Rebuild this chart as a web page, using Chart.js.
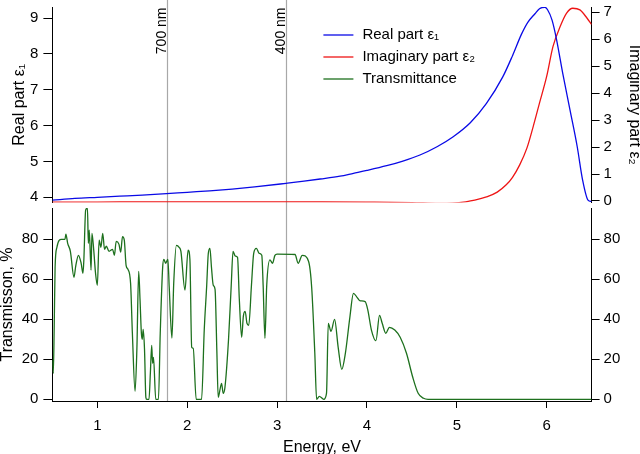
<!DOCTYPE html>
<html>
<head>
<meta charset="utf-8">
<script src="https://cdn.jsdelivr.net/npm/chart.js@4.4.1/dist/chart.umd.min.js"></script>
<style>
  html, body { margin: 0; padding: 0; background: #fff; }
  #wrap { position: relative; width: 640px; height: 454px; }
</style>
</head>
<body>
<div id="wrap"><canvas id="chart"></canvas></div>
<script>
// real part of the dielectric function (left axis, top panel)
const realEnergy = [0.5, 0.75, 1.0, 1.25, 1.5, 1.77, 2.0, 2.25, 2.5, 2.75, 3.1, 3.3, 3.48, 3.7, 3.85, 4.0, 4.22, 4.4, 4.59, 4.78, 4.96, 5.15, 5.33, 5.51, 5.62, 5.72, 5.79, 5.87, 5.92, 5.98, 6.01, 6.06, 6.11, 6.18, 6.26, 6.34, 6.40, 6.46, 6.5];
const realPart = [3.92, 3.97, 4.0, 4.03, 4.06, 4.1, 4.14, 4.18, 4.23, 4.29, 4.39, 4.45, 4.51, 4.59, 4.67, 4.75, 4.88, 5.01, 5.18, 5.41, 5.69, 6.08, 6.62, 7.35, 7.95, 8.55, 8.88, 9.12, 9.26, 9.3, 9.23, 8.94, 8.4, 7.44, 6.43, 5.41, 4.48, 3.92, 3.88];

// imaginary part (right axis, top panel)
const imagEnergy = [0.5, 1.0, 1.5, 2.0, 2.5, 3.0, 3.5, 4.0, 4.5, 4.8, 4.95, 5.1, 5.2, 5.33, 5.45, 5.55, 5.62, 5.70, 5.78, 5.85, 5.92, 6.0, 6.07, 6.15, 6.22, 6.29, 6.37, 6.45, 6.5];
const imagPart = [-0.04, -0.04, -0.03, -0.03, -0.03, -0.03, -0.03, -0.04, -0.06, -0.09, -0.08, -0.03, 0.03, 0.15, 0.33, 0.6, 0.88, 1.34, 1.96, 2.76, 3.63, 4.62, 5.73, 6.47, 6.96, 7.15, 7.09, 6.78, 6.55];

// transmittance, % (bottom panel)
const transEnergy = [0.50, 0.51, 0.52, 0.53, 0.55, 0.60, 0.64, 0.65, 0.67, 0.70, 0.74, 0.76, 0.79, 0.82, 0.84, 0.85, 0.87, 0.89, 0.90, 0.91, 0.93, 0.94, 0.96, 0.98, 1.00, 1.02, 1.04, 1.06, 1.08, 1.10, 1.13, 1.17, 1.19, 1.21, 1.24, 1.26, 1.28, 1.30, 1.32, 1.34, 1.37, 1.39, 1.42, 1.44, 1.46, 1.475, 1.49, 1.50, 1.51, 1.525, 1.54, 1.55, 1.575, 1.59, 1.605, 1.615, 1.625, 1.65, 1.68, 1.70, 1.727, 1.74, 1.76, 1.785, 1.80, 1.83, 1.85, 1.88, 1.91, 1.93, 1.975, 2.01, 2.03, 2.05, 2.067, 2.10, 2.16, 2.19, 2.216, 2.235, 2.253, 2.27, 2.29, 2.31, 2.33, 2.345, 2.37, 2.383, 2.40, 2.42, 2.46, 2.49, 2.51, 2.535, 2.56, 2.58, 2.606, 2.625, 2.645, 2.665, 2.685, 2.715, 2.74, 2.77, 2.80, 2.83, 2.845, 2.865, 2.885, 2.92, 2.95, 2.976, 3.00, 3.2, 3.235, 3.28, 3.35, 3.385, 3.42, 3.44, 3.47, 3.52, 3.55, 3.57, 3.60, 3.64, 3.68, 3.72, 3.76, 3.81, 3.85, 3.89, 3.92, 3.98, 4.01, 4.05, 4.10, 4.14, 4.17, 4.21, 4.25, 4.31, 4.37, 4.44, 4.51, 4.57, 4.63, 4.68, 6.50];
const transmittance = [19.6, 13, 36, 66, 76, 80, 80, 82.6, 78, 74, 61, 66.7, 72, 68, 63, 69.7, 94.6, 95.6, 78, 84.6, 64.6, 83, 74.6, 63, 57, 79.6, 76, 83, 75, 76.6, 74, 75, 72, 79, 77.6, 73.6, 81.3, 79.6, 67, 65, 58, 33, 4, 25, 64, 50, 33, 30, 35, 25, 1, 0, 0, 13, 27, 18, 21, 0, 0, 33, 66, 70, 68, 70, 56, 30.6, 58, 77, 76, 74, 54.6, 74.6, 70, 26, 25.5, 0, 0, 35, 56, 73, 75.5, 66, 57, 55, 24, 1, 6, 8, 3, 6, 30, 57, 74, 71.6, 71, 50, 31, 41.6, 44, 38, 37, 57, 73, 75.5, 73, 72, 57, 30.5, 57, 69.7, 68, 72, 72.6, 72.4, 68, 72, 69, 56, 23, 0, 1.5, 0, 3, 38, 34, 40, 26, 15, 23, 41, 53, 51, 49.3, 48.8, 44.6, 34.6, 29.3, 42, 38, 33, 36, 34.6, 31, 23, 11, 3, 0.5, 0, 0];

// wavelength markers
const markerNm = [700, 400];
const markerLabels = ['700 nm', '400 nm'];

const energyTicks = [1, 2, 3, 4, 5, 6];

const FONT = '"Liberation Sans", Arial, Helvetica, sans-serif';
Chart.defaults.font.family = FONT;
Chart.defaults.color = '#000';

const toPoints = (xs, ys) => xs.map((x, i) => ({ x, y: ys[i] }));

const markerPlugin = {
  id: 'markers',
  beforeDatasetsDraw(chart) {
    const { ctx, chartArea, scales: { x } } = chart;
    ctx.save();
    markerNm.forEach((nm, i) => {
      const px = Math.round(x.getPixelForValue(1239.84 / nm)) + 0.5;
      ctx.strokeStyle = '#a8a8a8';
      ctx.lineWidth = 1.2;
      ctx.beginPath();
      ctx.moveTo(px, 0);
      ctx.lineTo(px, chartArea.bottom);
      ctx.stroke();
      ctx.save();
      ctx.translate(px - 1.5, 7.5);
      ctx.rotate(-Math.PI / 2);
      ctx.font = '14px ' + FONT;
      ctx.fillStyle = '#000';
      ctx.textAlign = 'right';
      ctx.textBaseline = 'alphabetic';
      ctx.fillText(markerLabels[i], 0, 0);
      ctx.restore();
    });
    ctx.restore();
  }
};

// legend sits inside the top panel
const legendPlugin = {
  id: 'insideLegend',
  afterDatasetsDraw(chart) {
    const { ctx, chartArea } = chart;
    const x0 = chartArea.left + 271;
    ctx.save();
    ctx.font = '15px ' + FONT;
    ctx.textBaseline = 'middle';
    ctx.textAlign = 'left';
    chart.data.datasets.forEach((ds, i) => {
      const y = 35 + i * 22;
      ctx.strokeStyle = ds.borderColor;
      ctx.lineWidth = 1.3;
      ctx.beginPath();
      ctx.moveTo(x0, y);
      ctx.lineTo(x0 + 30, y);
      ctx.stroke();
      ctx.fillStyle = '#000';
      ctx.fillText(ds.label, x0 + 39, y);
    });
    ctx.restore();
  }
};

// fixed axis sizes so the plot area lines up with the reference
const fixWidth = (w) => (s) => { s.width = w; s.paddingTop = 0; s.paddingBottom = 0; };

const tickFont = { size: 15, lineHeight: 1 };
const axisGrid = { display: true, drawOnChartArea: false, drawTicks: true, tickLength: 8, tickColor: '#000', tickWidth: 1 };
const axisBorder = { display: true, color: '#000', width: 1 };
const hiddenAxis = (position, stack, w) => ({
  type: 'linear', position, stack, stackWeight: 5.5, min: 0, max: 1,
  afterFit: fixWidth(w),
  ticks: { display: false }, grid: { display: false }, border: { display: false }
});

new Chart(document.getElementById('chart'), {
  type: 'line',
  data: {
    datasets: [
      {
        label: 'Real part ε₁',
        data: toPoints(realEnergy, realPart),
        yAxisID: 'yReal',
        borderColor: '#0a0ae6',
        borderWidth: 1.3,
        pointRadius: 0,
        cubicInterpolationMode: 'monotone'
      },
      {
        label: 'Imaginary part ε₂',
        data: toPoints(imagEnergy, imagPart),
        yAxisID: 'yImag',
        borderColor: '#ee1515',
        borderWidth: 1.3,
        pointRadius: 0,
        cubicInterpolationMode: 'monotone'
      },
      {
        label: 'Transmittance',
        data: toPoints(transEnergy, transmittance),
        yAxisID: 'yTrans',
        borderColor: '#1d701d',
        borderWidth: 1.3,
        pointRadius: 0,
        cubicInterpolationMode: 'monotone'
      }
    ]
  },
  options: {
    responsive: true,
    maintainAspectRatio: false,
    animation: false,
    devicePixelRatio: 1,
    layout: { padding: { top: 7, left: 0, right: 0, bottom: 0 } },
    plugins: { legend: { display: false }, tooltip: { enabled: false } },
    scales: {
      x: {
        type: 'linear', position: 'bottom', min: 0.5, max: 6.5,
        afterBuildTicks: (s) => { s.ticks = energyTicks.map(v => ({ value: v })); },
        afterFit: (s) => { s.height = 53; s.paddingLeft = 0; s.paddingRight = 0; },
        ticks: { font: tickFont, padding: 10, autoSkip: false, maxRotation: 0 },
        grid: { ...axisGrid, tickLength: 7 },
        border: axisBorder,
        title: { display: true, text: 'Energy, eV', font: { size: 16, lineHeight: 1 }, padding: { top: 5, bottom: -2 } }
      },
      yTrans: {
        type: 'linear', position: 'left', stack: 'L', stackWeight: 193,
        min: -0.85, max: 95.65,
        afterFit: fixWidth(52.4),
        ticks: { stepSize: 20, includeBounds: false, autoSkip: false, font: tickFont, padding: 5 },
        grid: { ...axisGrid, tickLength: 9 },
        border: axisBorder,
        title: { display: true, text: 'Transmisson, %', font: { size: 16, lineHeight: 1 }, padding: { top: 0, bottom: 0 } }
      },
      yGapL: hiddenAxis('left', 'L', 52.4),
      yReal: {
        type: 'linear', position: 'left', stack: 'L', stackWeight: 195.5,
        min: 3.855, max: 9.307,
        afterFit: fixWidth(52.4),
        ticks: { stepSize: 1, includeBounds: false, autoSkip: false, font: tickFont, padding: 5 },
        grid: { ...axisGrid, tickLength: 9 },
        border: axisBorder,
        title: { display: true, text: 'Real part ε₁', font: { size: 16, lineHeight: 1 }, padding: { top: 11.5, bottom: 0 } }
      },
      yImag: {
        type: 'linear', position: 'right', stack: 'R', stackWeight: 195.5,
        min: -0.056, max: 7.197,
        afterFit: fixWidth(48.4),
        ticks: { stepSize: 1, includeBounds: false, autoSkip: false, font: tickFont, padding: 4 },
        grid: axisGrid,
        border: axisBorder,
        title: { display: true, text: 'Imaginary part ε₂', font: { size: 16, lineHeight: 0.65 }, padding: { top: 0, bottom: 0 } }
      },
      yGapR: hiddenAxis('right', 'R', 48.4),
      yTransR: {
        type: 'linear', position: 'right', stack: 'R', stackWeight: 193,
        min: -0.85, max: 95.65,
        afterFit: fixWidth(48.4),
        ticks: { stepSize: 20, includeBounds: false, autoSkip: false, font: tickFont, padding: 4 },
        grid: axisGrid,
        border: axisBorder
      }
    }
  },
  plugins: [markerPlugin, legendPlugin]
});
</script>
</body>
</html>
